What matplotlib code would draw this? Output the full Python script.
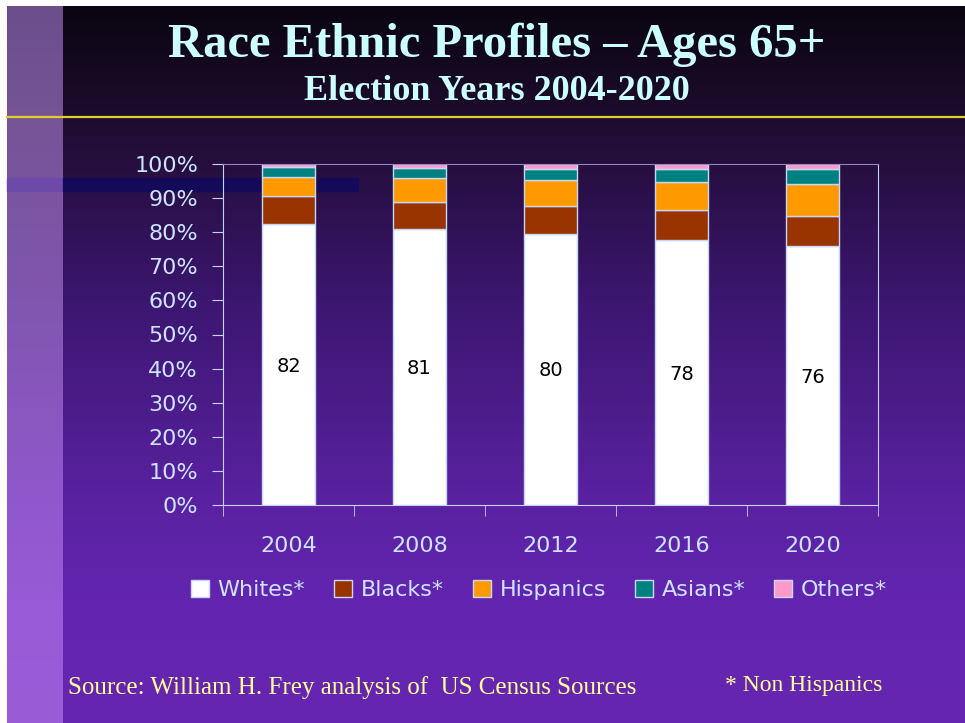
import numpy as np
import matplotlib.pyplot as plt
from matplotlib.patches import Rectangle
from matplotlib.lines import Line2D

years = ['2004', '2008', '2012', '2016', '2020']
whites = [82.4, 80.8, 79.6, 77.7, 76.0]
blacks = [8.2, 8.1, 8.1, 8.7, 8.8]
hispanics = [5.6, 6.9, 7.6, 8.2, 9.2]
asians = [2.8, 3.1, 3.2, 3.9, 4.4]
others = [1.0, 1.1, 1.5, 1.5, 1.6]

groups = ['Whites*', 'Blacks*', 'Hispanics', 'Asians*', 'Others*']
colors = ['#ffffff', '#993300', '#ff9900', '#008080', '#ff99cc']

W, H = 965, 723
fig = plt.figure(figsize=(W / 100, H / 100), dpi=100)
fig.patch.set_facecolor('white')


def px(x0, y0, x1, y1):
    """pixel box (top-left origin) -> figure fraction rect"""
    return [x0 / W, 1 - y1 / H, (x1 - x0) / W, (y1 - y0) / H]


# slide background: vertical purple gradient plus lighter strip on the left
bg = fig.add_axes(px(7, 6, W, H), zorder=0)
rows = np.linspace(6, H, 400)
stops_y = [6, 117, 300, 505, 600, H]
main_rgb = np.array([[10, 5, 16], [30, 12, 46], [60, 22, 112], [90, 34, 162],
                     [99, 37, 176], [102, 38, 178]]) / 255
strip_rgb = np.array([[108, 78, 140], [118, 84, 150], [128, 86, 175], [145, 88, 205],
                      [152, 90, 214], [155, 92, 216]]) / 255
grad_main = np.stack([np.interp(rows, stops_y, main_rgb[:, i]) for i in range(3)], axis=1)
grad_strip = np.stack([np.interp(rows, stops_y, strip_rgb[:, i]) for i in range(3)], axis=1)
img = np.repeat(grad_main[:, None, :], W - 7, axis=1)
img[:, :56, :] = grad_strip[:, None, :]
bg.imshow(img, aspect='auto', extent=[0, 1, 0, 1], interpolation='bilinear')
bg.set_axis_off()

# navy band across the upper left and the yellow rule under the title
fig.patches.append(Rectangle(px(7, 178, 63, 191)[:2], 56 / W, 13 / H,
                             transform=fig.transFigure, color='#6e4aa8', zorder=1))
fig.patches.append(Rectangle(px(63, 178, 358, 191)[:2], 295 / W, 13 / H,
                             transform=fig.transFigure, color='#150a5a', zorder=1))
fig.lines.append(Line2D([7 / W, 1], [1 - 117 / H] * 2, transform=fig.transFigure,
                        color='#e0d030', lw=1.6, zorder=1))

fig.text(497 / W, 1 - 45 / H, 'Race Ethnic Profiles \u2013 Ages 65+', ha='center', va='center',
         fontsize=35, fontweight='bold', family='Liberation Serif', color='#ccffff')
fig.text(497 / W, 1 - 92 / H, 'Election Years 2004-2020', ha='center', va='center',
         fontsize=26, fontweight='bold', family='Liberation Serif', color='#ccffff')

# stacked bar chart
ax = fig.add_axes(px(223, 164, 878, 505), zorder=2)
ax.set_facecolor('none')
x = np.arange(len(years))
series = [whites, blacks, hispanics, asians, others]
bottom = np.zeros(len(years))
for vals, c, name in zip(series, colors, groups):
    ax.bar(x, vals, 0.4, bottom=bottom, color=c, edgecolor='#c6d8f5', lw=1, label=name)
    bottom += np.array(vals)

for xi, v in zip(x, whites):
    ax.text(xi, v / 2 - 0.5, f'{v:.0f}', ha='center', va='center', fontsize=14, color='black',
            family='DejaVu Sans')

ax.set_xlim(-0.5, len(years) - 0.5)
ax.set_ylim(0, 100)
ax.set_yticks(np.arange(0, 101, 10))
ax.set_yticklabels([f'{t}%' for t in range(0, 101, 10)])
ax.set_xticks(x)
ax.set_xticklabels(years)
ax.set_xticks(np.arange(-0.5, len(years)), minor=True)
ax.tick_params(axis='x', which='major', length=0, pad=22)
ax.tick_params(axis='x', which='minor', length=8, color='#c0d4f4', direction='out')
ax.tick_params(axis='y', length=8, color='#c0d4f4', direction='out', pad=10)
for lab in ax.get_xticklabels() + ax.get_yticklabels():
    lab.set_fontsize(16)
    lab.set_color('#cce4ff')
    lab.set_family('DejaVu Sans')
for side in ['left', 'bottom', 'right']:
    ax.spines[side].set_color('#c0d4f4')
ax.spines['top'].set_color('#9088b8')

leg = fig.legend(loc='center', bbox_to_anchor=(539 / W, 1 - 590 / H), ncol=5, frameon=False,
                 handlelength=0.8, handleheight=0.8, handletextpad=0.4, columnspacing=1.3,
                 prop={'family': 'DejaVu Sans', 'size': 16})
for t in leg.get_texts():
    t.set_color('#cce4ff')

fig.text(68 / W, 1 - 688 / H, 'Source: William H. Frey analysis of  US Census Sources',
         ha='left', va='center', fontsize=18, family='Liberation Serif', color='#ffff99')
fig.text(882 / W, 1 - 686 / H, '* Non Hispanics', ha='right', va='center',
         fontsize=17, family='Liberation Serif', color='#ffff99')

fig.savefig('out.png', dpi=100)
